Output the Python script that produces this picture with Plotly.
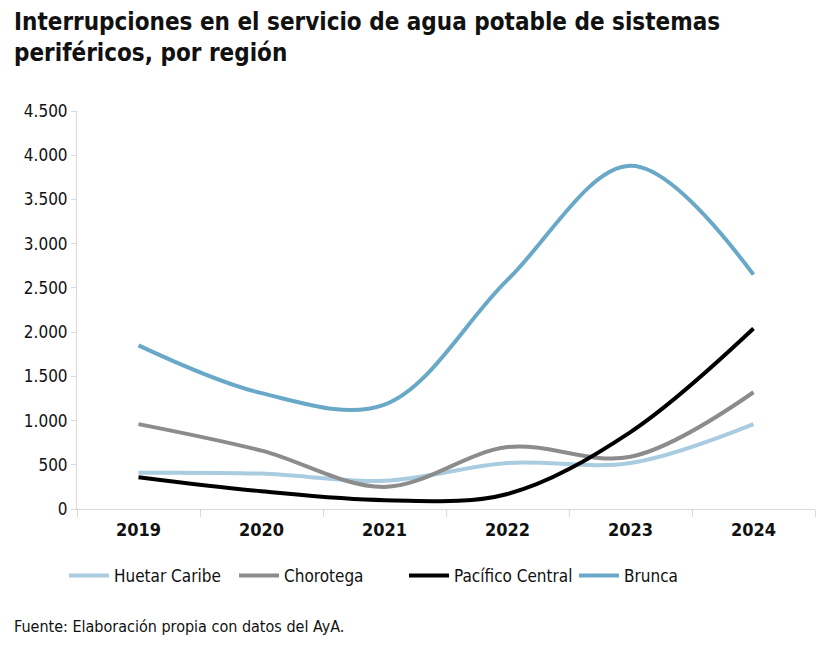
import plotly.graph_objects as go

years = ["2019", "2020", "2021", "2022", "2023", "2024"]
huetar_caribe = [410, 400, 320, 520, 520, 960]
chorotega = [960, 660, 250, 700, 590, 1320]
pacifico_central = [360, 200, 100, 170, 870, 2040]
brunca = [1850, 1310, 1180, 2590, 3880, 2650]

series = [
    ("Huetar Caribe", huetar_caribe, "#A9CCE0"),
    ("Chorotega", chorotega, "#8C8C8C"),
    ("Pacífico Central", pacifico_central, "#000000"),
    ("Brunca", brunca, "#6AA8C8"),
]

FONT = "DejaVu Sans Condensed, Roboto Condensed, Liberation Sans Narrow, Roboto, sans-serif"

# page body has an 8px margin, so the figure is offset by (8, 8) in the window
OFF = 8
W, H = 828 - OFF, 649 - OFF
L, T = 77 - OFF, 111 - OFF
pw, ph = 815 - 77, 509 - 111
R, B = W - L - pw, H - T - ph

def px(x):
    return (x - OFF - L) / pw

def py(y):
    return (T + ph - (y - OFF)) / ph

fig = go.Figure()
for name, vals, color in series:
    fig.add_trace(go.Scatter(
        x=years, y=vals, name=name, mode="lines",
        line=dict(color=color, width=4, shape="spline", smoothing=1.0),
    ))

fig.update_layout(
    width=W, height=H,
    paper_bgcolor="white", plot_bgcolor="white",
    margin=dict(l=L, r=R, t=T, b=B, autoexpand=False),
    separators=",.",
    font=dict(family=FONT, size=17, color="#111111"),
    showlegend=True,
    legend=dict(
        orientation="h", x=px(64), xanchor="left", y=py(558), yanchor="top",
        font=dict(family=FONT, size=17, color="#111111"),
        itemwidth=40, traceorder="normal", entrywidth=115, entrywidthmode="pixels",
    ),
    annotations=[
        dict(
            text="<b>Interrupciones en el servicio de agua potable de sistemas<br>periféricos, por región</b>",
            xref="paper", yref="paper", x=px(12), y=py(6),
            xanchor="left", yanchor="top", align="left", showarrow=False,
            font=dict(family=FONT, size=24, color="#111111"),
        ),
        dict(
            text="Fuente: Elaboración propia con datos del AyA.",
            xref="paper", yref="paper", x=px(12), y=py(626),
            xanchor="left", yanchor="middle", showarrow=False,
            font=dict(family=FONT, size=16, color="#111111"),
        ),
    ],
)

fig.update_xaxes(
    type="category", range=[-0.5, 5.5], tickson="boundaries", ticks="outside", ticklen=7,
    tickcolor="#D9D9D9", showline=True, linecolor="#D9D9D9", linewidth=1,
    showgrid=False, tickfont=dict(family=FONT, size=18, color="#111111"),
    ticklabelstandoff=4, tickprefix="<b>", ticksuffix="</b>",
)
fig.update_yaxes(
    range=[0, 4500], dtick=500, tickformat=",d", ticks="outside", ticklen=5,
    tickcolor="#D9D9D9", showline=True, linecolor="#D9D9D9", linewidth=1,
    showgrid=False, zeroline=False,
    tickfont=dict(family=FONT, size=17, color="#111111"),
)

fig.write_html("out.html")
